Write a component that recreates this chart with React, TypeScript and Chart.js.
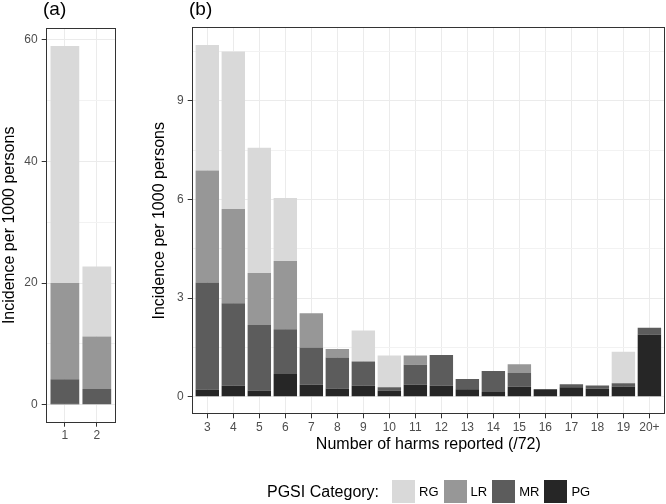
import React, { useEffect, useRef } from "react";
import { Chart, registerables } from "chart.js";

Chart.register(...registerables);

// ---- data ----
const seriesNames = ["PG", "MR", "LR", "RG"];
const seriesColors = ["#262626", "#5c5c5c", "#979797", "#d9d9d9"];
const legendOrder = [3, 2, 1, 0];

const catsA = ["1", "2"];
const pgA = [0.2, 0.1];
const mrA = [4.0, 2.47];
const lrA = [15.8, 8.63];
const rgA = [38.96, 11.5];

const catsB = ["3", "4", "5", "6", "7", "8", "9", "10", "11", "12", "13", "14", "15", "16", "17", "18", "19", "20+"];
const pgB = [0.22, 0.33, 0.19, 0.69, 0.36, 0.25, 0.33, 0.19, 0.36, 0.33, 0.23, 0.14, 0.3, 0.23, 0.29, 0.24, 0.31, 1.89];
const mrB = [3.25, 2.51, 1.99, 1.36, 1.14, 0.94, 0.74, 0.1, 0.61, 0.94, 0.31, 0.64, 0.42, 0, 0.09, 0.1, 0.1, 0.21];
const lrB = [3.41, 2.87, 1.58, 2.08, 1.04, 0.26, 0, 0, 0.28, 0, 0, 0, 0.27, 0, 0, 0, 0, 0];
const rgB = [3.82, 4.79, 3.81, 1.91, 0, 0, 0.94, 0.96, 0, 0, 0, 0, 0, 0, 0, 0, 0.96, 0];

const ticksA = [0, 10, 20, 30, 40, 50, 60];
const majorA = [0, 20, 40, 60];
const ticksB = [0, 1.5, 3, 4.5, 6, 7.5, 9, 10.5];
const majorB = [0, 3, 6, 9];

const yTitle = "Incidence per 1000 persons";
const xTitleB = "Number of harms reported (/72)";
const legendTitle = "PGSI Category:";

const FONT = "'Liberation Sans', Arial, Helvetica, sans-serif";

const borderPlugin = {
  id: "panelBorder",
  afterDraw(chart: any) {
    const { ctx, chartArea: a } = chart;
    ctx.save();
    ctx.strokeStyle = "#333333";
    ctx.lineWidth = 1;
    ctx.strokeRect(Math.round(a.left) + 0.5, Math.round(a.top) + 0.5, Math.round(a.right - a.left) - 1, Math.round(a.bottom - a.top) - 1);
    ctx.restore();
  },
};

function makeChart(
  canvas: HTMLCanvasElement,
  cats: string[],
  series: number[][],
  yTicks: number[],
  yMajor: number[],
  pad: { left: number; right: number; top: number; bottom: number },
  yWidth: number,
  xHeight: number,
  xTitle: string | null
) {
  const totals = cats.map((_, i) => series.reduce((s, arr) => s + arr[i], 0));
  const maxT = Math.max(...totals);
  const ex = maxT * 0.05;
  const datasets = series.map((arr, k) => ({
    label: seriesNames[k],
    data: arr.map((v, i) => ({ x: i, y: v })),
    backgroundColor: seriesColors[k],
    borderWidth: 0,
    barPercentage: 0.9,
    categoryPercentage: 1,
    stack: "s",
  }));
  return new Chart(canvas, {
    type: "bar",
    data: { datasets } as any,
    options: {
      animation: false,
      responsive: false,
      layout: { padding: pad },
      plugins: { legend: { display: false }, tooltip: { enabled: false } },
      scales: {
        x: {
          type: "linear",
          stacked: true,
          offset: false,
          min: -0.6,
          max: cats.length - 1 + 0.6,
          afterBuildTicks: (s: any) => {
            s.ticks = cats.map((_, i) => ({ value: i }));
          },
          afterFit: (s: any) => {
            s.height = xHeight;
          },
          ticks: {
            callback: (v: any) => cats[Math.round(v)],
            autoSkip: false,
            maxRotation: 0,
            padding: 2,
            color: "#4d4d4d",
            font: { family: FONT, size: 12 },
          },
          grid: { offset: false, color: "#ebebeb", lineWidth: 1, tickColor: "#333333", tickLength: 4 },
          border: { display: false },
          title: {
            display: !!xTitle,
            text: xTitle || "",
            color: "#000000",
            padding: 0,
            font: { family: FONT, size: 16 },
          },
        },
        y: {
          stacked: true,
          min: -ex,
          max: maxT + ex,
          afterBuildTicks: (s: any) => {
            s.ticks = yTicks.map((v) => ({ value: v }));
          },
          afterFit: (s: any) => {
            s.width = yWidth;
          },
          ticks: {
            callback: (v: any) => (yMajor.includes(v) ? String(v) : ""),
            padding: 4,
            color: "#4d4d4d",
            font: { family: FONT, size: 12 },
          },
          grid: {
            color: (c: any) => (c.tick && yMajor.includes(c.tick.value) ? "#ebebeb" : "#f2f2f2"),
            lineWidth: 1,
            tickColor: (c: any) => (c.tick && yMajor.includes(c.tick.value) ? "#333333" : "rgba(0,0,0,0)"),
            tickLength: 4,
          },
          border: { display: false },
          title: {
            display: true,
            text: yTitle,
            color: "#000000",
            padding: 0,
            font: { family: FONT, size: 16 },
          },
        },
      },
    } as any,
    plugins: [borderPlugin],
  });
}

export default function App() {
  const refA = useRef<HTMLCanvasElement>(null);
  const refB = useRef<HTMLCanvasElement>(null);

  useEffect(() => {
    const a = makeChart(
      refA.current!,
      catsA,
      [pgA, mrA, lrA, rgA],
      ticksA,
      majorA,
      { left: 0, right: 9, top: 28, bottom: 51.3 },
      45.7,
      30,
      null
    );
    const b = makeChart(
      refB.current!,
      catsB,
      [pgB, mrB, lrB, rgB],
      ticksB,
      majorB,
      { left: 25, right: 1, top: 27.3, bottom: 50.1 },
      41.7,
      39.6,
      xTitleB
    );
    return () => {
      a.destroy();
      b.destroy();
    };
  }, []);

  const tagStyle: React.CSSProperties = {
    position: "absolute",
    top: -1,
    fontFamily: FONT,
    fontSize: 19,
    lineHeight: "19px",
    color: "#000",
  };

  return (
    <div style={{ position: "fixed", left: 0, top: 0, width: 666, height: 504, background: "#fff", overflow: "hidden" }}>
      <canvas ref={refA} width={125} height={504} style={{ position: "absolute", left: 0, top: 0, width: 125, height: 504 }} />
      <canvas ref={refB} width={541} height={504} style={{ position: "absolute", left: 125, top: 0, width: 541, height: 504 }} />
      <div style={{ ...tagStyle, left: 43 }}>(a)</div>
      <div style={{ ...tagStyle, left: 189 }}>(b)</div>
      <div
        style={{
          position: "absolute",
          left: 267,
          top: 480,
          height: 23,
          display: "flex",
          alignItems: "center",
          fontFamily: FONT,
          color: "#000",
          whiteSpace: "nowrap",
        }}
      >
        <span style={{ fontSize: 16, marginRight: 13 }}>{legendTitle}</span>
        {legendOrder.map((k) => (
          <React.Fragment key={k}>
            <span style={{ display: "inline-block", width: 23, height: 23, background: seriesColors[k], marginRight: 4 }} />
            <span style={{ fontSize: 13, marginRight: 5 }}>{seriesNames[k]}</span>
          </React.Fragment>
        ))}
      </div>
    </div>
  );
}
